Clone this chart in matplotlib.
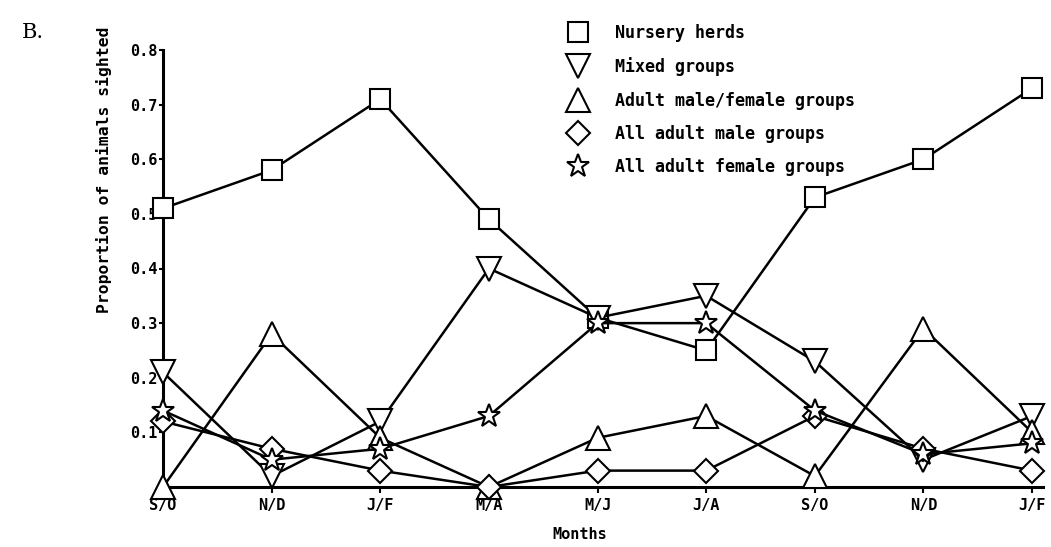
import matplotlib
matplotlib.use("Agg")
import matplotlib.pyplot as plt
from matplotlib.lines import Line2D

months = ["S/O", "N/D", "J/F", "M/A", "M/J", "J/A", "S/O", "N/D", "J/F"]

nursery = [0.51, 0.58, 0.71, 0.49, 0.31, 0.25, 0.53, 0.60, 0.73]
mixed = [0.21, 0.02, 0.12, 0.40, 0.31, 0.35, 0.23, 0.05, 0.13]
adult_mf = [0.00, 0.28, 0.09, 0.00, 0.09, 0.13, 0.02, 0.29, 0.10]
adult_male = [0.12, 0.07, 0.03, 0.00, 0.03, 0.03, 0.13, 0.07, 0.03]
adult_female = [0.14, 0.05, 0.07, 0.13, 0.30, 0.30, 0.14, 0.06, 0.08]

series_labels = ["Nursery herds", "Mixed groups", "Adult male/female groups",
                 "All adult male groups", "All adult female groups"]

MONO = "DejaVu Sans Mono"

fig = plt.figure(figsize=(10.51, 5.47), dpi=100)
ax = fig.add_axes([163 / 1051, 60 / 547, 880 / 1051, 437 / 547])

x = list(range(len(months)))
styles = [
    (nursery, "s", 14),
    (mixed, "v", 17),
    (adult_mf, "^", 17),
    (adult_male, "D", 12),
    (adult_female, "*", 17),
]

handles = []
for (vals, mk, ms), label in zip(styles, series_labels):
    ax.plot(x, vals, color="black", lw=1.8, marker=mk, ms=ms, mfc="white",
            mec="black", mew=1.5, clip_on=False, zorder=3)
    handles.append(Line2D([], [], ls="none", marker=mk, ms=ms, mfc="white",
                          mec="black", mew=1.5, label=label))

ax.set_xlim(0, 8.1)
ax.set_ylim(0, 0.8)
ax.set_xticks(x)
ax.set_xticklabels(months, fontfamily=MONO, fontweight="bold", fontsize=11)
ax.set_yticks([0.1, 0.2, 0.3, 0.4, 0.5, 0.6, 0.7, 0.8])
ax.set_yticklabels(["0.1", "0.2", "0.3", "0.4", "0.5", "0.6", "0.7", "0.8"],
                   fontfamily=MONO, fontweight="bold", fontsize=11)
ax.tick_params(axis="y", length=3, width=1.5, pad=1)
ax.tick_params(axis="x", length=4, width=1.5, pad=4)

for side in ["top", "right"]:
    ax.spines[side].set_visible(False)
for side in ["left", "bottom"]:
    ax.spines[side].set_linewidth(2.2)

ax.set_ylabel("Proportion of animals sighted", fontfamily=MONO,
              fontweight="bold", fontsize=11.8)
ax.yaxis.set_label_coords(-0.058, 0.725)
ax.set_xlabel("Months", fontfamily=MONO, fontweight="bold", fontsize=11)
ax.xaxis.set_label_coords(0.474, -0.0915)

leg = ax.legend(handles=handles, loc="upper left", bbox_to_anchor=(0.443, 1.094),
                frameon=False, handlelength=1.2, handletextpad=1.65,
                labelspacing=0.92, prop={"family": MONO, "weight": "bold", "size": 12})

fig.text(22 / 1051, 1 - 33 / 547, "B.", fontfamily="DejaVu Serif", fontsize=15,
         va="center", ha="left")

fig.savefig("out.png", dpi=100)
